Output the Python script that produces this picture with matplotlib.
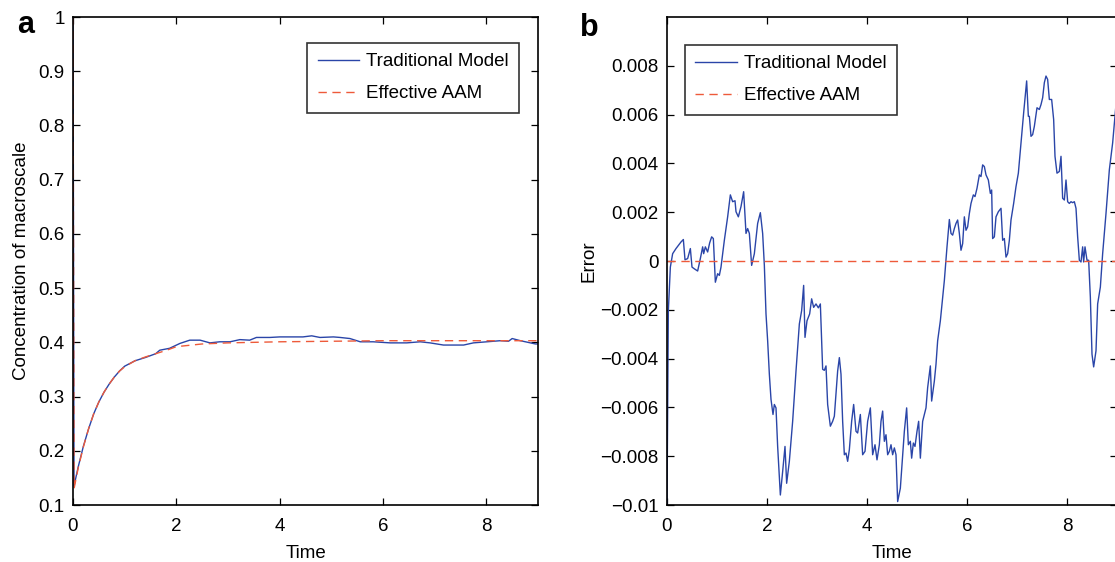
import numpy as np
import matplotlib
matplotlib.use("Agg")
import matplotlib.pyplot as plt
from matplotlib.ticker import FixedLocator, FixedFormatter

# ---------------- data: panel a ----------------
trad_t = [0.0, 0.02, 0.1, 0.2, 0.3, 0.4, 0.5, 0.6, 0.7, 0.8, 0.9, 1.0, 1.2, 1.4, 1.6, 1.68, 1.87,
          2.07, 2.26, 2.46, 2.65, 2.84, 3.04, 3.23, 3.42, 3.55, 3.81, 4.0, 4.26, 4.45, 4.62, 4.78,
          5.04, 5.17, 5.36, 5.56, 5.81, 6.14, 6.46, 6.72, 6.91, 7.17, 7.56, 7.75, 8.01, 8.27,
          8.43, 8.5, 8.66, 8.95, 9.0]
trad_c = [1.0, 0.135, 0.17, 0.208, 0.24, 0.268, 0.29, 0.308, 0.323, 0.336, 0.347, 0.356, 0.366,
          0.372, 0.379, 0.3855, 0.389, 0.398, 0.404, 0.404, 0.399, 0.401, 0.401, 0.405, 0.404,
          0.409, 0.409, 0.41, 0.41, 0.41, 0.412, 0.409, 0.41, 0.409, 0.407, 0.401, 0.401, 0.399,
          0.399, 0.401, 0.399, 0.395, 0.395, 0.399, 0.401, 0.403, 0.402, 0.407, 0.403, 0.397, 0.397]

aam_t = [0.0, 0.02, 0.1, 0.2, 0.3, 0.4, 0.5, 0.6, 0.7, 0.8, 0.9, 1.0, 1.2, 1.4, 1.6, 1.8, 2.0,
         2.5, 3.0, 4.0, 5.0, 6.0, 7.0, 8.0, 9.0]
aam_c = [1.0, 0.13, 0.168, 0.207, 0.24, 0.268, 0.29, 0.308, 0.323, 0.336, 0.347, 0.355, 0.366,
         0.373, 0.379, 0.385, 0.392, 0.397, 0.399, 0.401, 0.402, 0.403, 0.403, 0.403, 0.403]

# ---------------- data: panel b (error, in units of 1e-3) ----------------
err_t = [0.0, 0.027, 0.067, 0.113, 0.18, 0.28, 0.327, 0.36, 0.413, 0.467, 0.5, 0.547, 0.613,
         0.667, 0.713, 0.733, 0.767, 0.813, 0.853, 0.893, 0.927, 0.967, 1.013, 1.047, 1.08,
         1.147, 1.213, 1.267, 1.313, 1.36, 1.38, 1.427, 1.48, 1.533, 1.58, 1.613, 1.647, 1.693,
         1.747, 1.813, 1.867, 1.913, 1.947, 1.98, 2.013, 2.047, 2.08, 2.12, 2.147, 2.18, 2.213,
         2.267, 2.313, 2.36, 2.393, 2.447, 2.513, 2.58, 2.647, 2.693, 2.733, 2.76, 2.8, 2.853,
         2.893, 2.933, 2.98, 3.027, 3.067, 3.113, 3.147, 3.18, 3.213, 3.267, 3.313, 3.347,
         3.413, 3.447, 3.48, 3.513, 3.547, 3.58, 3.613, 3.647, 3.693, 3.733, 3.78, 3.813,
         3.867, 3.913, 3.96, 4.013, 4.067, 4.113, 4.16, 4.2, 4.247, 4.28, 4.313, 4.347, 4.38,
         4.413, 4.447, 4.48, 4.513, 4.547, 4.58, 4.613, 4.667, 4.713, 4.747, 4.793, 4.827,
         4.867, 4.893, 4.927, 4.96, 5.0, 5.033, 5.067, 5.113, 5.18, 5.213, 5.267, 5.293,
         5.347, 5.38, 5.413, 5.467, 5.513, 5.547, 5.6, 5.647, 5.68, 5.713, 5.747, 5.78,
         5.813, 5.847, 5.88, 5.913, 5.947, 5.98, 6.013, 6.047, 6.08, 6.127, 6.16, 6.2, 6.247,
         6.28, 6.313, 6.347, 6.38, 6.427, 6.467, 6.493, 6.513, 6.547, 6.58, 6.627, 6.68,
         6.713, 6.747, 6.78, 6.813, 6.847, 6.88, 6.933, 6.98, 7.027, 7.08, 7.133, 7.193,
         7.227, 7.247, 7.28, 7.313, 7.347, 7.4, 7.447, 7.48, 7.513, 7.547, 7.58, 7.613,
         7.647, 7.693, 7.733, 7.76, 7.8, 7.847, 7.88, 7.913, 7.947, 7.98, 8.013, 8.047, 8.08,
         8.113, 8.147, 8.18, 8.213, 8.247, 8.28, 8.313, 8.333, 8.36, 8.4, 8.433, 8.467, 8.5,
         8.533, 8.58, 8.613, 8.667, 8.713, 8.78, 8.847, 8.913, 8.96, 8.98, 9.0]
err_milli = [-10.0, -2.03, -0.25, 0.30, 0.51, 0.78, 0.88, 0.05, 0.10, 0.51, -0.25, -0.32, -0.41,
             0.10, 0.58, 0.30, 0.58, 0.37, 0.74, 0.99, 0.92, -0.87, -0.52, -0.59, -0.25,
             0.85, 1.81, 2.71, 2.43, 2.47, 2.02, 1.81, 2.23, 2.84, 1.13, 1.33, 1.13, -0.18,
             0.30, 1.54, 1.98, 1.13, -0.18, -2.17, -3.27, -4.64, -5.67, -6.29, -5.88, -6.02,
             -7.60, -9.59, -8.63, -7.60, -9.11, -8.21, -6.57, -4.51, -2.58, -2.03, -1.00,
             -3.13, -2.45, -2.17, -1.55, -1.90, -1.76, -1.92, -1.76, -4.44, -4.48, -4.30,
             -5.88, -6.77, -6.57, -6.36, -4.51, -3.96, -4.64, -6.57, -7.94, -7.87, -8.21,
             -7.73, -6.57, -5.88, -6.98, -7.05, -6.29, -7.94, -7.80, -6.57, -6.02, -7.94,
             -7.53, -8.15, -7.53, -6.57, -6.15, -7.39, -7.12, -7.94, -7.80, -7.53, -7.94,
             -7.66, -7.94, -9.86, -9.31, -7.94, -6.98, -6.02, -7.53, -7.39, -8.08, -7.46,
             -7.60, -6.98, -6.57, -8.08, -6.57, -6.02, -5.19, -4.30, -5.74, -4.92, -4.23,
             -3.27, -2.45, -1.48, -0.80, 0.58, 1.70, 1.13, 1.06, 1.33, 1.54, 1.68, 1.13, 0.44,
             0.71, 1.81, 1.26, 1.40, 1.95, 2.36, 2.71, 2.64, 2.98, 3.53, 3.46, 3.94, 3.87,
             3.53, 3.32, 2.77, 2.91, 0.92, 0.99, 1.81, 2.02, 2.16, 0.85, 0.92, 0.16, 0.30,
             0.85, 1.68, 2.36, 3.05, 3.60, 4.84, 6.07, 7.38, 5.93, 5.93, 5.11, 5.18, 5.52,
             6.28, 6.21, 6.41, 6.69, 7.31, 7.58, 7.44, 6.62, 6.62, 5.80, 4.29, 3.60, 3.67,
             4.29, 2.57, 2.50, 3.32, 2.43, 2.36, 2.43, 2.39, 2.43, 2.16, 0.99, 0.03, -0.04,
             0.58, -0.04, 0.58, 0.03, 0.03, -1.48, -3.82, -4.34, -3.68, -1.76, -1.07, 0.30,
             1.95, 3.74, 4.84, 5.93, 6.41, 6.7]
aam_err_t = [0.0, 9.0]
aam_err = [0.0, 0.0]

xticks = [0, 2, 4, 6, 8]
yticks_a = [0.1, 0.2, 0.3, 0.4, 0.5, 0.6, 0.7, 0.8, 0.9, 1.0]
yticklabels_a = ["0.1", "0.2", "0.3", "0.4", "0.5", "0.6", "0.7", "0.8", "0.9", "1"]
yticks_b = [-0.01, -0.008, -0.006, -0.004, -0.002, 0.0, 0.002, 0.004, 0.006, 0.008]
yticklabels_b = ["\u22120.01", "\u22120.008", "\u22120.006", "\u22120.004", "\u22120.002", "0",
                 "0.002", "0.004", "0.006", "0.008"]

BLUE = "#2a45a8"
RED = "#ee5a3a"
FS = 13.5

plt.rcParams['font.family'] = ['Liberation Sans', 'DejaVu Sans']
plt.rcParams['axes.unicode_minus'] = True

W, H = 1115, 562
fig = plt.figure(figsize=(W / 100, H / 100), dpi=100)

def px_axes(x0, y0, x1, y1):
    return fig.add_axes([x0 / W, 1 - y1 / H, (x1 - x0) / W, (y1 - y0) / H])

ax1 = px_axes(73, 17, 538, 505)
ax2 = px_axes(667, 17, 1117, 505)

def style(ax):
    for s in ax.spines.values():
        s.set_linewidth(1.2)
        s.set_color("black")
    ax.tick_params(direction="in", length=5, width=0.9, top=True, right=True,
                   labelsize=FS, pad=6, colors="black")
    ax.tick_params(axis="x", pad=9.5)
    ax.set_xticks(xticks)
    ax.set_xticklabels([str(v) for v in xticks])
    ax.set_xlim(0, 9)

leg_kw = dict(fontsize=FS, frameon=True, fancybox=False, edgecolor="black", handlelength=2.2,
              handletextpad=0.4, labelspacing=0.8, borderpad=0.55, borderaxespad=0)

# Panel a
ax1.plot(trad_t, trad_c, color=BLUE, lw=1.0, label="Traditional Model")
ax1.plot(aam_t, aam_c, color=RED, lw=1.0, dashes=(6, 4), label="Effective AAM")
style(ax1)
ax1.set_ylim(0.1, 1.0)
ax1.yaxis.set_major_locator(FixedLocator(yticks_a))
ax1.yaxis.set_major_formatter(FixedFormatter(yticklabels_a))
ax1.set_xlabel("Time", fontsize=FS, labelpad=7)
ax1.set_ylabel("Concentration of macroscale", fontsize=FS, labelpad=6)
leg1 = ax1.legend(loc="upper right", bbox_to_anchor=(0.96, 0.947), **leg_kw)
leg1.get_frame().set_linewidth(1.2)

# Panel b
ax2.plot(err_t, np.array(err_milli) * 1e-3, color=BLUE, lw=1.0, label="Traditional Model")
ax2.plot(aam_err_t, aam_err, color=RED, lw=1.0, dashes=(6, 4), label="Effective AAM")
style(ax2)
ax2.set_ylim(-0.01, 0.01)
ax2.yaxis.set_major_locator(FixedLocator(yticks_b))
ax2.yaxis.set_major_formatter(FixedFormatter(yticklabels_b))
ax2.set_xlabel("Time", fontsize=FS, labelpad=7)
ax2.set_ylabel("Error", fontsize=FS, labelpad=2)
leg2 = ax2.legend(loc="upper left", bbox_to_anchor=(0.04, 0.943), **leg_kw)
leg2.get_frame().set_linewidth(1.2)

fig.text(17 / W, 1 - 33 / H, "a", fontsize=22, fontweight="bold", ha="left", va="baseline")
fig.text(580 / W, 1 - 36 / H, "b", fontsize=22, fontweight="bold", ha="left", va="baseline")

fig.savefig("out.png", dpi=100)
